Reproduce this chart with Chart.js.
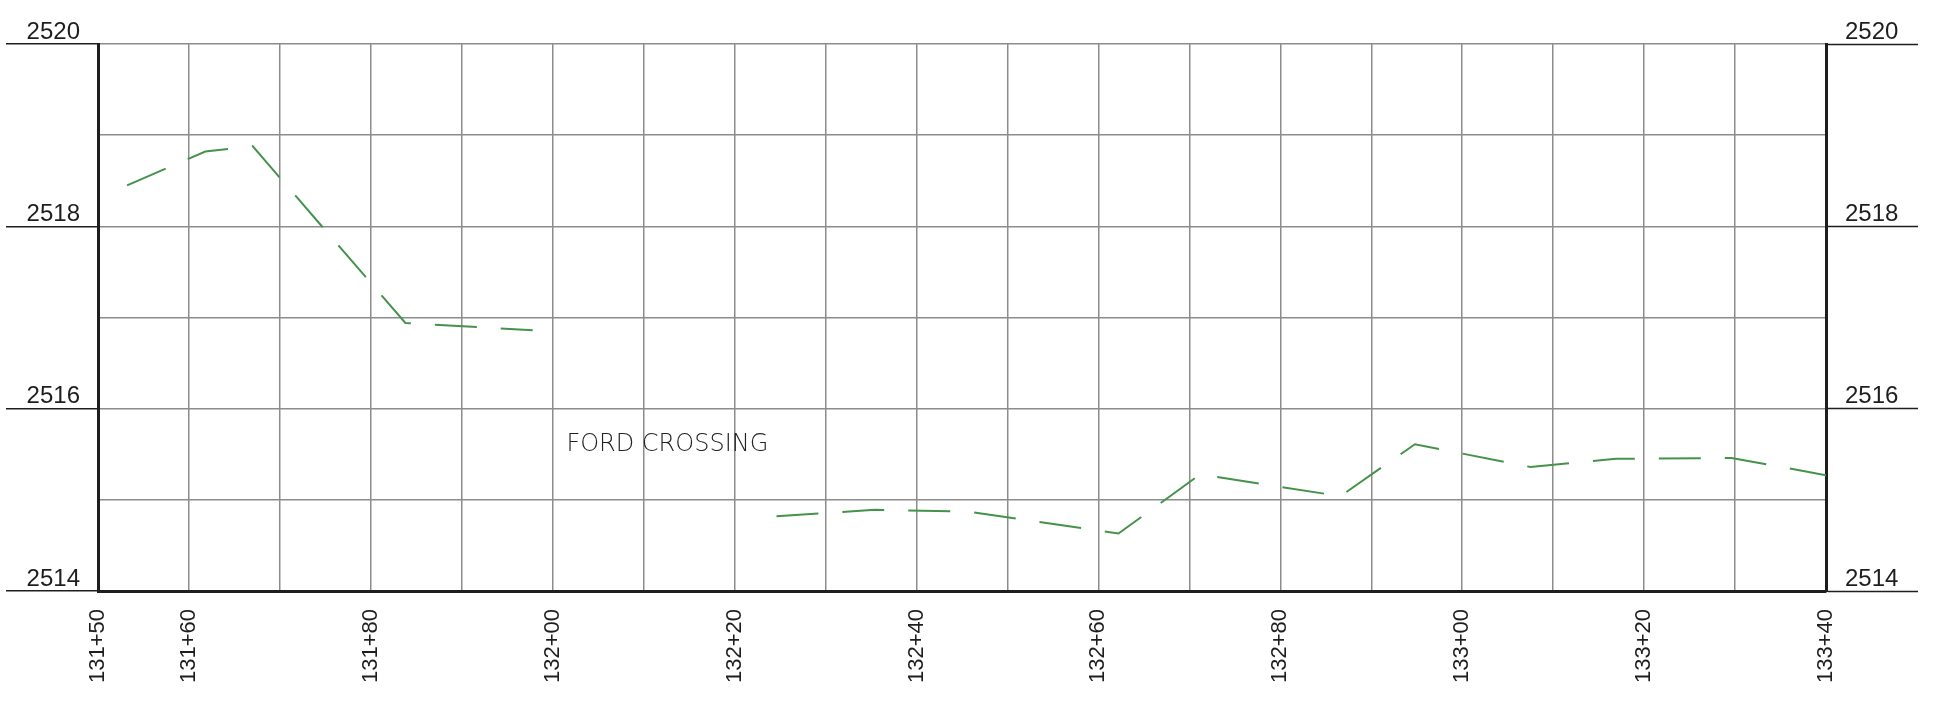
<!DOCTYPE html>
<html>
<head>
<meta charset="utf-8">
<title>Ford crossing profile</title>
<script src="https://cdn.jsdelivr.net/npm/chart.js@4.4.1/dist/chart.umd.min.js"></script>
<style>
  html, body { margin: 0; padding: 0; background: #fff; }
  #chart { display: block; }
</style>
</head>
<body>
<canvas id="chart" width="1934" height="702"></canvas>
<script>
// stations in feet (13150 = 131+50), null elevation = no data (ford crossing)
const stations = [13153.2, 13161.8, 13167.0, 13183.8, 13197.8, 13210,
  13224.6, 13235.4, 13245.8, 13262.2, 13271.2, 13286.6, 13294.8, 13307.5, 13316.9, 13329.6, 13340];
const elevations = [2518.45, 2518.82, 2518.88, 2516.94, 2516.86, null,
  2514.82, 2514.89, 2514.87, 2514.63, 2515.28, 2515.04, 2515.61, 2515.36, 2515.45, 2515.46, 2515.27];

const xTickLabels = ["131+50", "131+60", "131+80", "132+00", "132+20", "132+40",
  "132+60", "132+80", "133+00", "133+20", "133+40"];
const yTickLabels = [2514, 2516, 2518, 2520];

const noteText = "FORD CROSSING";
const noteStation = 13201.5;
const noteElevation = 2515.6;

function stationLabel(v) {
  const ft = Math.round(v);
  const hundreds = Math.floor(ft / 100);
  const rest = ft % 100;
  return hundreds + "+" + (rest < 10 ? "0" + rest : rest);
}

const GRID = "#8c8c8c";
const INK = "#1e1e1e";
const FONT = "'Liberation Sans', Arial, sans-serif";

const notePlugin = {
  id: "note",
  afterDatasetsDraw(chart) {
    const { ctx, scales } = chart;
    const x = scales.x.getPixelForValue(noteStation);
    const y = scales.y.getPixelForValue(noteElevation);
    ctx.save();
    ctx.font = "200 24px 'DejaVu Sans'";
    ctx.fillStyle = "#222";
    ctx.textAlign = "left";
    ctx.textBaseline = "middle";
    ctx.fillText(noteText, x, y);
    ctx.restore();
  }
};

const evenTick = (ctx) => yTickLabels.includes(ctx.tick && ctx.tick.value) ? INK : "rgba(0,0,0,0)";

new Chart(document.getElementById("chart").getContext("2d"), {
  type: "line",
  data: {
    datasets: [{
      label: "Profile",
      data: stations.map((s, i) => ({ x: s, y: elevations[i] })),
      borderColor: "#45924a",
      borderWidth: 2,
      borderDash: [42, 24],
      pointRadius: 0,
      tension: 0,
      fill: false,
      spanGaps: false
    }]
  },
  options: {
    responsive: false,
    animation: false,
    devicePixelRatio: 1,
    layout: { padding: { top: 44, left: 0, right: 0, bottom: 0 } },
    plugins: { legend: { display: false }, tooltip: { enabled: false } },
    scales: {
      x: {
        type: "linear",
        min: 13150,
        max: 13340,
        afterFit: (s) => { s.height = 111; },
        border: { display: true, color: INK, width: 3 },
        grid: { color: GRID, lineWidth: 1.5, drawTicks: false },
        ticks: {
          stepSize: 10,
          autoSkip: false,
          minRotation: 90,
          maxRotation: 90,
          padding: 18,
          color: INK,
          font: { family: FONT, size: 22 },
          callback: (v) => xTickLabels.includes(stationLabel(v)) ? stationLabel(v) : ""
        }
      },
      y: {
        position: "left",
        min: 2514,
        max: 2520,
        afterFit: (s) => { s.width = 98; },
        border: { display: true, color: INK, width: 3 },
        grid: { color: GRID, lineWidth: 1.5, tickLength: 92, tickColor: evenTick, tickWidth: 1.5 },
        ticks: {
          stepSize: 1,
          padding: -74,
          labelOffset: -12,
          color: INK,
          font: { family: FONT, size: 24 },
          callback: (v) => yTickLabels.includes(v) ? String(v) : ""
        }
      },
      y2: {
        position: "right",
        min: 2514,
        max: 2520,
        afterFit: (s) => { s.width = 108; },
        border: { display: true, color: INK, width: 3 },
        grid: { drawOnChartArea: false, tickLength: 92, tickColor: evenTick, tickWidth: 1.5 },
        ticks: {
          stepSize: 1,
          padding: -73,
          labelOffset: -12,
          color: INK,
          font: { family: FONT, size: 24 },
          callback: (v) => yTickLabels.includes(v) ? String(v) : ""
        }
      }
    }
  },
  plugins: [notePlugin]
});
</script>
</body>
</html>
